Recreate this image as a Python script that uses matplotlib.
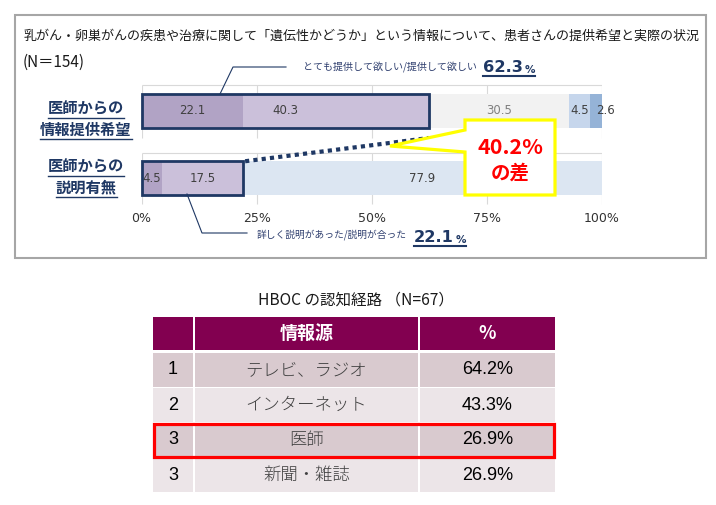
import matplotlib.pyplot as plt
from matplotlib.patches import Rectangle, Polygon

plt.rcParams['font.family'] = ['Noto Sans CJK JP', 'DejaVu Sans']

# --- bar chart data ---
title = '乳がん・卵巣がんの疾患や治療に関して「遺伝性かどうか」という情報について、患者さんの提供希望と実際の状況'
n_label = '(N＝154)'
rows = ['医師からの\n情報提供希望', '医師からの\n説明有無']
wish_vals = [22.1, 40.3, 30.5, 4.5, 2.6]
wish_colors = ['#B1A3C5', '#CBC0DA', '#F2F2F2', '#C6D6EC', '#95B3D7']
expl_vals = [4.5, 17.5, 77.9]
expl_colors = ['#B1A3C5', '#CBC0DA', '#DCE6F2']
wish_note = 'とても提供して欲しい/提供して欲しい'
wish_total = '62.3'
expl_note = '詳しく説明があった/説明が合った'
expl_total = '22.1'
gap_text = ['40.2%', 'の差']
ticks = [0, 25, 50, 75, 100]

# --- table data ---
table_title = 'HBOC の認知経路 （N=67）'
header = ['', '情報源', '%']
ranks = ['1', '2', '3', '3']
sources = ['テレビ、ラジオ', 'インターネット', '医師', '新聞・雑誌']
shares = [64.2, 43.3, 26.9, 26.9]
highlight = 2

NAVY = '#1F3864'
W, H = 716, 505

fig = plt.figure(figsize=(W / 100, H / 100), dpi=100)

# bar axes, placed in pixel terms
X0, X1 = 141.5, 602
Y_TOP, Y_BOT = 80, 205
ROW0, PITCH = 111, 67


def yu(px):
    return (px - ROW0) / PITCH


ax = fig.add_axes([X0 / W, 1 - Y_BOT / H, (X1 - X0) / W, (Y_BOT - Y_TOP) / H])
ax.set_xlim(0, 100)
ax.set_ylim(yu(Y_BOT), yu(Y_TOP))
for s in ax.spines.values():
    s.set_visible(False)
ax.set_yticks([])
ax.set_xticks(ticks)
ax.set_xticklabels([f'{t}%' for t in ticks], fontfamily='DejaVu Sans', fontsize=9, color='#333333')
ax.tick_params(axis='x', length=0, pad=5)

for a, b in [(85, 138), (153, 204)]:
    ax.vlines(ticks, yu(a), yu(b), color='#D9D9D9', lw=0.8, zorder=0)
    ax.hlines(yu(a), 0, 100, color='#D9D9D9', lw=0.8, zorder=0)

bar_h = 0.5
label_nudge = {(0, 1): -10.9, (0, 4): 2.0}
for i, (vals, cols) in enumerate([(wish_vals, wish_colors), (expl_vals, expl_colors)]):
    left = 0
    for j, (v, c) in enumerate(zip(vals, cols)):
        ax.barh(i, v, left=left, height=bar_h, color=c, edgecolor='none', zorder=2)
        tc = '#808080' if c == '#F2F2F2' else '#404040'
        ax.text(left + v / 2 + label_nudge.get((i, j), 0), i, f'{v}', ha='center', va='center',
                fontfamily='DejaVu Sans', fontsize=8.5, color=tc, zorder=4, clip_on=False)
        left += v

# navy boxes around the "yes" parts
wish_w = wish_vals[0] + wish_vals[1]
expl_w = expl_vals[0] + expl_vals[1]
ax.add_patch(Rectangle((0, -bar_h / 2), wish_w, bar_h, fill=False, ec=NAVY, lw=2, zorder=5, clip_on=False))
ax.add_patch(Rectangle((0, 1 - bar_h / 2), expl_w, bar_h, fill=False, ec=NAVY, lw=2, zorder=5, clip_on=False))
ax.plot([expl_w + 0.5, wish_w], [1 - bar_h / 2, yu(138)], ls=(0, (1, 1)), lw=3, color=NAVY,
        dash_capstyle='butt', zorder=5, clip_on=False)

# overlay in pixel coordinates
ov = fig.add_axes([0, 0, 1, 1])
ov.set_xlim(0, W)
ov.set_ylim(H, 0)
ov.axis('off')

ov.add_patch(Rectangle((15, 15), 691, 243, fill=False, ec='#A6A6A6', lw=1.5))
ov.text(24, 36, title, fontsize=9.4, color='#1A1A1A', va='center', ha='left')
ov.text(23, 62, n_label, fontsize=11, color='#1A1A1A', va='center', ha='left')

under = []
for cy, lab in zip([119, 177], rows):
    for k, line in enumerate(lab.split('\n')):
        t = ov.text(86, cy + (k - 0.5) * 21, line, ha='center', va='center', fontsize=11,
                    fontweight='bold', color=NAVY)
        under.append(([t], 1.0, 1.0))

# leaders and totals
ov.plot([220, 233, 286], [94, 67, 67], color=NAVY, lw=0.8)
ov.plot([187, 202, 247], [194, 233, 233], color=NAVY, lw=0.8)
ov.text(303, 67, wish_note, fontsize=7.2, color='#2F3F6F', va='center', ha='left')
ov.text(257, 235, expl_note, fontsize=7.0, color='#2F3F6F', va='center', ha='left')
for x, base, num in [(483, 72, wish_total), (414, 242, expl_total)]:
    tn = ov.text(x, base, num, fontfamily='DejaVu Sans', fontweight='bold', fontsize=11.7,
                 color=NAVY, va='baseline', ha='left')
    tp = ov.annotate('%', xy=(1, 0), xycoords=tn, xytext=(1, 0), textcoords='offset points',
                     fontfamily='DejaVu Sans', fontweight='bold', fontsize=7.5, color=NAVY,
                     va='bottom', ha='left')
    under.append(([tn, tp], 1.2, 1.5))

# callout
ov.add_patch(Polygon([(465, 120), (555, 120), (555, 195), (465, 195), (465, 152), (390, 146), (465, 130)],
                     closed=True, fc='white', ec='#FFFF00', lw=2.3, joinstyle='miter', zorder=6))
ov.text(510, 148, gap_text[0], fontsize=15.5, fontweight='bold', color='#FF0000', ha='center', va='center', zorder=7)
ov.text(510, 173, gap_text[1], fontsize=14, fontweight='bold', color='#FF0000', ha='center', va='center', zorder=7)

# table
ov.text(356, 300, table_title, fontsize=11.2, color='#1A1A1A', ha='center', va='center')
cols = [(153, 193), (195, 418), (420, 555)]
for (c0, c1), h in zip(cols, header):
    ov.add_patch(Rectangle((c0, 317), c1 - c0, 33, fc='#820050', ec='none'))
    ov.text((c0 + c1) / 2, 333.5, h, color='white', fontweight='bold', fontsize=13, ha='center', va='center')
row_fill = ['#D9CACF', '#ECE5E8']
for i, (r, s, v) in enumerate(zip(ranks, sources, shares)):
    top = 353 + i * 35
    for c0, c1 in cols:
        ov.add_patch(Rectangle((c0, top), c1 - c0, 34, fc=row_fill[i % 2], ec='none'))
    cy = top + 17
    ov.text(sum(cols[0]) / 2, cy, r, fontfamily='Liberation Sans', fontsize=13, color='black', ha='center', va='center')
    ov.text(sum(cols[1]) / 2, cy, s, fontsize=12.5, fontweight='light', color='#404040', ha='center', va='center')
    ov.text(sum(cols[2]) / 2, cy, f'{v:.1f}%', fontfamily='Liberation Sans', fontsize=13, color='black',
            ha='center', va='center')
ht = 353 + highlight * 35
ov.add_patch(Rectangle((154, ht + 1), 400, 33, fill=False, ec='#FF0000', lw=2.3, zorder=8))

# underlines from rendered text extents
fig.canvas.draw()
inv = ov.transData.inverted()
for arts, gap_px, lw in under:
    bbs = [a.get_window_extent() for a in arts]
    xa, yb = inv.transform((min(b.x0 for b in bbs), min(b.y0 for b in bbs)))
    xb, _ = inv.transform((max(b.x1 for b in bbs), 0))
    ov.plot([xa, xb], [yb + gap_px, yb + gap_px], color=NAVY, lw=lw)

fig.savefig('out.png', dpi=100)
